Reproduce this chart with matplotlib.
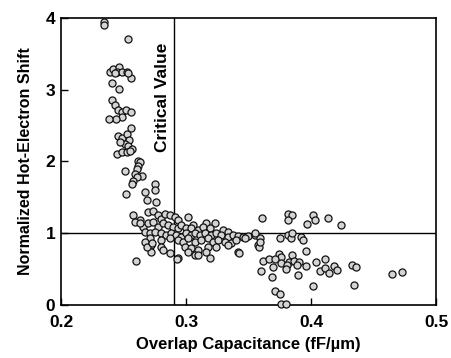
import matplotlib
matplotlib.use("Agg")
import matplotlib.pyplot as plt

plt.rcParams['font.family'] = ['Liberation Sans', 'DejaVu Sans']

# --- data ---
# steep branch (low capacitance, high shift)
x_high = [0.2347, 0.2347, 0.2533, 0.2392, 0.2419, 0.2466, 0.2450, 0.2486, 0.2525,
          0.2560, 0.2539, 0.2432, 0.2411, 0.2461, 0.2410, 0.2432, 0.2456, 0.2491,
          0.2518, 0.2558, 0.2491, 0.2438, 0.2384, 0.2459, 0.2486, 0.2526, 0.2547,
          0.2560, 0.2512, 0.2539, 0.2566, 0.2472, 0.2446, 0.2486, 0.2526, 0.2552,
          0.2618, 0.2632, 0.2619, 0.2606, 0.2512, 0.2592, 0.2646, 0.2606, 0.2579,
          0.2566, 0.2752, 0.2752, 0.2672, 0.2690, 0.2757, 0.2517]
y_high = [3.94, 3.90, 3.70, 3.25, 3.29, 3.32, 3.25, 3.25, 3.24,
          3.16, 3.23, 3.23, 3.10, 3.01, 2.86, 2.79, 2.72, 2.69,
          2.71, 2.69, 2.62, 2.59, 2.59, 2.36, 2.33, 2.38, 2.30,
          2.47, 2.25, 2.21, 2.18, 2.27, 2.11, 2.13, 2.13, 2.15,
          2.01, 1.99, 1.94, 1.90, 1.87, 1.83, 1.80, 1.78, 1.73,
          1.69, 1.68, 1.60, 1.57, 1.47, 1.44, 1.54]

# dense cluster around the critical value
x_mid = [0.2576, 0.2629, 0.2696, 0.2736, 0.2776, 0.2803, 0.2829, 0.2869, 0.2909,
         0.2936, 0.3016, 0.3056, 0.3163, 0.3229, 0.2589, 0.2656, 0.2696, 0.2736,
         0.2776, 0.2816, 0.2856, 0.2896, 0.2936, 0.2963, 0.3003, 0.3043, 0.3096,
         0.3136, 0.3189, 0.3296, 0.3336, 0.2669, 0.2709, 0.2749, 0.2803, 0.2843,
         0.2883, 0.2923, 0.2963, 0.3003, 0.3043, 0.3069, 0.3109, 0.3149, 0.3203,
         0.3243, 0.3283, 0.3336, 0.3376, 0.3416, 0.3456, 0.3496, 0.3549, 0.2709,
         0.2803, 0.2869, 0.2936, 0.2976, 0.3016, 0.3069, 0.3123, 0.3176, 0.3216,
         0.3256, 0.3309, 0.3363, 0.3403, 0.3469, 0.2723, 0.2803, 0.2816, 0.2723,
         0.2989, 0.3043, 0.3096, 0.3176, 0.3016, 0.3069, 0.3163, 0.3243, 0.3336,
         0.3416, 0.3576, 0.2603, 0.2869, 0.2936, 0.3189, 0.3096, 0.2632, 0.2672,
         0.2690, 0.2730, 0.2925]
y_mid = [1.25, 1.18, 1.30, 1.31, 1.26, 1.20, 1.27, 1.25, 1.23,
         1.18, 1.23, 1.11, 1.14, 1.14, 1.16, 1.09, 1.14, 1.16,
         1.09, 1.14, 1.11, 1.09, 1.07, 1.11, 1.07, 1.07, 1.04,
         1.09, 1.07, 1.04, 1.02, 1.02, 1.00, 1.02, 1.00, 0.97,
         1.00, 0.97, 0.95, 1.00, 0.97, 1.00, 0.97, 1.00, 0.97,
         1.00, 0.97, 0.95, 0.98, 0.96, 0.95, 0.96, 0.98, 0.93,
         0.90, 0.93, 0.90, 0.88, 0.93, 0.88, 0.90, 0.93, 0.88,
         0.90, 0.88, 0.86, 0.90, 0.93, 0.83, 0.81, 0.76, 0.74,
         0.81, 0.79, 0.76, 0.81, 0.74, 0.69, 0.74, 0.81, 0.83,
         0.74, 0.83, 0.62, 0.72, 0.65, 0.65, 0.69, 1.14, 0.88,
         0.81, 0.86, 0.64]

# scattered branch (high capacitance)
x_low = [0.3606, 0.3817, 0.3850, 0.3817, 0.4017, 0.4032, 0.3966, 0.4138, 0.4242,
         0.3752, 0.3817, 0.3836, 0.3844, 0.3918, 0.3936, 0.3592, 0.3587, 0.3426,
         0.3552, 0.3590, 0.3744, 0.3757, 0.3616, 0.3664, 0.3712, 0.3696, 0.3757,
         0.3824, 0.3845, 0.3864, 0.3904, 0.3890, 0.3957, 0.3962, 0.4037, 0.4112,
         0.4069, 0.4112, 0.4144, 0.4184, 0.4210, 0.4325, 0.4357, 0.3602, 0.3690,
         0.3810, 0.3802, 0.3896, 0.4018, 0.4344, 0.4650, 0.4725, 0.3712, 0.3752,
         0.3762, 0.3802]
y_low = [1.21, 1.27, 1.25, 1.19, 1.25, 1.18, 1.13, 1.21, 1.11,
         0.94, 0.97, 0.94, 1.00, 0.95, 0.91, 0.93, 0.81, 0.73,
         1.00, 0.88, 0.71, 0.67, 0.62, 0.64, 0.64, 0.53, 0.58,
         0.60, 0.69, 0.62, 0.60, 0.56, 0.54, 0.75, 0.60, 0.64,
         0.48, 0.51, 0.45, 0.54, 0.49, 0.56, 0.53, 0.48, 0.39,
         0.56, 0.50, 0.42, 0.27, 0.28, 0.43, 0.46, 0.19, 0.15,
         0.01, 0.01]

critical_value = 0.29
x_ticks = [0.2, 0.3, 0.4, 0.5]
y_ticks = [0, 1, 2, 3, 4]

fig = plt.figure(figsize=(4.52, 3.58), dpi=100)
ax = fig.add_axes([0.135, 0.148, 0.83, 0.802])

ax.axhline(1, color='black', lw=1.0, zorder=1)
ax.axvline(critical_value, color='black', lw=1.0, zorder=1)

for xs, ys in [(x_high, y_high), (x_mid, y_mid), (x_low, y_low)]:
    ax.scatter(xs, ys, s=26, facecolor='#d4d4d4', edgecolor='#111111',
               linewidths=0.9, zorder=3, clip_on=False)

ax.text(0.2815, 2.9, 'Critical Value', rotation=90, ha='center', va='center',
        fontsize=12.5, fontweight='bold')

ax.set_xlim(0.2, 0.5)
ax.set_ylim(0, 4)
ax.set_xticks(x_ticks)
ax.set_xticklabels(['0.2', '0.3', '0.4', '0.5'])
ax.set_yticks(y_ticks)
ax.tick_params(direction='in', length=5, width=1, labelsize=12.5)
ax.tick_params(axis='x', pad=7)
ax.tick_params(axis='y', pad=4)
for lab in ax.get_xticklabels() + ax.get_yticklabels():
    lab.set_fontweight('bold')
for sp in ax.spines.values():
    sp.set_linewidth(1.2)

ax.set_xlabel('Overlap Capacitance (fF/µm)', fontsize=12, fontweight='bold', labelpad=5)
ax.set_ylabel('Normalized Hot-Electron Shift', fontsize=11.5, fontweight='bold', labelpad=9)

fig.savefig('out.png', dpi=100)
